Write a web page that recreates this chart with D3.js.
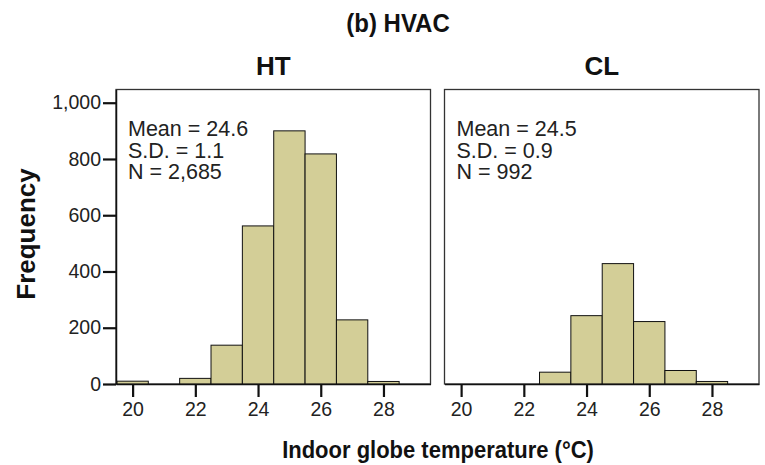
<!DOCTYPE html>
<html><head><meta charset="utf-8">
<script src="https://cdn.jsdelivr.net/npm/d3@7"></script>
<style>
html,body{margin:0;padding:0;background:#fff;}
text{font-family:"Liberation Sans",Arial,sans-serif;}
</style></head>
<body><svg id="chart" width="765" height="465"></svg>
<script>
const binCenters = [20, 21, 22, 23, 24, 25, 26, 27, 28];
const htCounts = [10, 0, 20, 138, 562, 900, 818, 228, 9];
const clCounts = [0, 0, 0, 42, 243, 428, 222, 48, 9];
const panelNames = ["HT", "CL"];
const statLines = [
  ["Mean = 24.6", "S.D. = 1.1", "N = 2,685"],
  ["Mean = 24.5", "S.D. = 0.9", "N = 992"]
];
const xTicks = [20, 22, 24, 26, 28];
const yTicks = [0, 200, 400, 600, 800, 1000];
const mainTitle = "(b) HVAC";
const xTitle = "Indoor globe temperature (°C)";
const yTitle = "Frequency";

const svg = d3.select("#chart");
const plotTop = 89.5, plotBottom = 384;
const panelLefts = [116, 444.5];
const panelW = 314.5;
const fill = "#d3ce97";

const y = d3.scaleLinear().domain([0, 1047]).range([plotBottom, plotTop]);

svg.append("text").attr("transform", "translate(398,32) scale(1,1.05)").attr("text-anchor", "middle")
  .attr("font-size", 24).attr("font-weight", "bold").attr("fill", "#111").text(mainTitle);

const series = [htCounts, clCounts];
panelLefts.forEach((left, i) => {
  const x = d3.scaleLinear().domain([19.47, 29.5]).range([left, left + panelW]);
  const g = svg.append("g");
  g.append("rect").attr("x", left).attr("y", plotTop).attr("width", panelW).attr("height", plotBottom - plotTop)
    .attr("fill", "none").attr("stroke", "#333").attr("stroke-width", 1.3);
  const data = binCenters.map((c, k) => ({c, v: series[i][k]})).filter(d => d.v > 0);
  g.selectAll("rect.bar").data(data).enter().append("rect").attr("class", "bar")
    .attr("x", d => x(d.c - 0.5)).attr("width", d => x(d.c + 0.5) - x(d.c - 0.5))
    .attr("y", d => y(d.v)).attr("height", d => plotBottom - y(d.v))
    .attr("fill", fill).attr("stroke", "#111").attr("stroke-width", 1);
  const xa = g.append("g").attr("transform", `translate(0,${plotBottom})`)
    .call(d3.axisBottom(x).tickValues(xTicks).tickSize(13).tickPadding(5).tickSizeOuter(0));
  xa.select(".domain").attr("stroke", "#111").attr("stroke-width", 1.5);
  xa.selectAll(".tick line").attr("stroke", "#111").attr("stroke-width", 2.2);
  xa.selectAll(".tick text").attr("font-size", 19.5).attr("fill", "#222")
    .attr("font-family", "Liberation Sans, Arial, sans-serif");
  g.append("text").attr("x", left + panelW / 2).attr("y", 75).attr("text-anchor", "middle")
    .attr("font-size", 26).attr("font-weight", "bold").attr("fill", "#111").text(panelNames[i]);
  statLines[i].forEach((s, j) => {
    g.append("text").attr("x", left + 12).attr("y", 136 + j * 21.7)
      .attr("font-size", 21.5).attr("fill", "#222").text(s);
  });
  if (i === 0) {
    const ya = g.append("g").attr("transform", `translate(${left},0)`)
      .call(d3.axisLeft(y).tickValues(yTicks).tickSize(13).tickPadding(2).tickFormat(d3.format(",")).tickSizeOuter(0));
    ya.select(".domain").attr("stroke", "#111").attr("stroke-width", 1.5);
    ya.selectAll(".tick line").attr("stroke", "#111").attr("stroke-width", 2.2);
    ya.selectAll(".tick text").attr("font-size", 19.5).attr("fill", "#222")
      .attr("font-family", "Liberation Sans, Arial, sans-serif");
  }
});

svg.append("text").attr("transform", "translate(35,234) rotate(-90)").attr("text-anchor", "middle")
  .attr("font-size", 26).attr("font-weight", "bold").attr("fill", "#111").text(yTitle);
svg.append("text").attr("transform", "translate(438,458) scale(1,1.12)").attr("text-anchor", "middle")
  .attr("font-size", 22).attr("font-weight", "bold").attr("fill", "#111").text(xTitle);
</script></body></html>
